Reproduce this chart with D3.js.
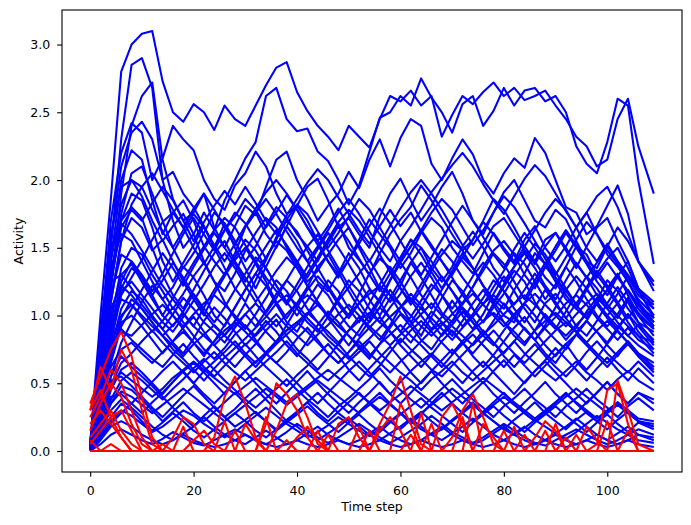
<!DOCTYPE html>
<html>
<head>
<meta charset="utf-8" />
<title>Activity per time step</title>
<script src="https://cdnjs.cloudflare.com/ajax/libs/d3/7.8.5/d3.min.js"></script>
<style>
  body { margin: 0; background: #fff; }
  svg text { font-family: "DejaVu Sans", sans-serif; fill: #000; }
</style>
</head>
<body>
<script>
// time steps (every second step, plus the last one)
var steps = d3.range(0, 108, 2).concat([109]);
var xTicks = [0, 20, 40, 60, 80, 100];
var yTicks = [0, 0.5, 1, 1.5, 2, 2.5, 3];

// activity x 100, one row per blue unit
var blueActivity = [
[5,100,186,280,300, 308,310,273,250,243, 256,250,237,255,245, 240,255,270,283,287, 265,251,240,232,222, 240,232,224,245,262, 258,266,255,262,232, 248,262,256,265,272, 262,268,259,262,266, 255,245,232,225,210, 215,245,260,225,190],
[3,60,150,230,285, 290,268,200,170,150, 160,176,163,185,200, 216,228,262,268,245, 236,238,221,214,200, 182,196,221,246,250, 262,255,275,261,250, 235,256,262,240,251, 268,255,266,268,258, 262,250,225,212,205, 228,260,255,200,138],
[2,45,120,190,240, 262,272,215,186,170, 176,190,165,150,166, 181,174,195,215,221, 200,186,170,181,190, 206,194,215,230,210, 231,245,240,212,200, 216,230,219,200,190, 205,216,209,231,220, 200,180,176,160,166, 181,196,175,140,118],
[3,70,155,210,235, 243,230,200,206,190, 180,166,150,168,155, 140,151,166,180,172, 160,151,140,156,168, 150,141,130,146,160, 171,180,196,185,172, 160,148,156,170,186, 178,165,151,140,156, 161,148,135,151,165, 172,155,140,120,105],
[4,80,170,220,242, 235,200,216,240,230, 222,200,186,178,196, 205,221,210,190,175, 181,195,201,185,165, 172,160,150,173,190, 201,185,170,181,195, 206,190,170,160,176, 191,200,185,170,165, 178,171,155,140,135, 151,165,155,140,125],
[2,65,140,200,222, 215,185,160,176,185, 170,151,140,130,146, 165,176,160,150,166, 181,170,155,140,130, 141,156,171,160,150, 135,146,161,172,165, 150,140,131,146,161, 150,140,156,166,150, 140,151,165,176,160, 145,136,125,110,95],
[1,50,120,175,205, 210,190,170,150,135, 146,161,176,168,150, 135,120,136,151,166, 155,140,125,118,131, 146,135,120,110,126, 141,156,150,135,125, 136,151,162,150,135, 125,136,148,140,128, 120,136,151,145,130, 120,131,115,100,90],
[5,85,160,195,200, 188,170,155,166,175, 160,140,125,118,131, 148,161,172,165,150, 138,125,133,145,156, 165,150,135,120,110, 122,139,150,140,128, 118,108,121,136,148, 155,145,130,120,136, 148,161,150,138,125, 115,129,140,120,98],
[2,55,125,170,190, 185,165,140,125,139, 152,166,150,135,120, 110,126,141,158,170, 162,148,135,122,110, 100,116,131,142,135, 120,108,119,133,145, 155,148,135,122,112, 105,119,131,146,138, 125,112,105,119,131, 142,150,135,118,100],
[3,60,130,170,180, 172,150,130,115,105, 119,133,146,155,140, 128,115,102,113,126, 139,151,160,148,135, 122,110,98,111,126, 139,128,115,105,119, 131,143,135,122,110, 100,95,109,123,136, 128,115,105,98,111, 126,118,105,95,88],
[2,45,110,155,172, 165,148,156,140,125, 112,100,116,129,141, 150,138,125,110,98, 109,121,136,145,132, 118,105,95,106,119, 108,95,85,99,113, 126,118,105,95,109, 121,133,125,110,98, 90,103,116,129,120, 108,98,111,100,85],
[4,70,135,160,155, 140,125,112,121,136, 128,115,100,92,106, 119,131,122,108,95, 88,101,113,126,118, 105,95,109,123,136, 125,112,100,90,99, 111,100,90,101,116, 129,118,105,95,109, 116,105,92,85,96, 109,121,110,95,80],
[1,40,95,135,150, 145,130,118,105,116, 129,139,125,110,98, 90,101,113,126,118, 105,95,88,99,111, 121,131,141,128,115, 102,95,106,119,129, 118,105,95,85,96, 109,100,90,82,93, 106,119,129,120,108, 98,90,101,92,78],
[3,55,115,145,140, 128,115,100,92,103, 116,105,95,106,119, 131,143,135,122,110, 100,111,123,115,102, 92,85,96,106,98, 88,99,111,123,115, 102,92,101,113,126, 118,105,95,106,119, 110,98,88,96,109, 119,108,95,85,72],
[2,35,85,120,135, 128,115,126,139,128, 115,102,92,85,96, 109,98,88,80,93, 106,119,129,120,108, 98,109,119,110,98, 88,80,91,103,95, 85,96,109,119,108, 95,85,78,89,101, 92,82,91,103,113, 105,95,85,93,82],
[5,75,125,130,120, 108,98,90,101,113, 105,95,88,80,91, 101,92,103,116,126, 118,105,95,85,78, 89,99,90,82,93, 106,116,108,95,85, 93,103,95,85,78, 89,99,109,100,90, 82,75,86,96,88, 80,91,101,88,75],
[1,30,75,105,118, 112,100,90,80,72, 83,96,106,98,88, 78,86,96,88,78, 70,81,93,103,95, 85,76,68,79,91, 101,92,82,75,86, 96,106,98,88,80, 72,81,91,82,72, 65,76,86,96,88, 78,70,81,72,62],
[3,48,92,112,108, 98,88,96,106,95, 85,75,68,76,86, 93,82,72,65,73, 83,91,82,72,65, 73,83,91,99,88, 78,70,62,71,81, 89,80,70,62,71, 81,91,99,88,78, 70,79,68,60,69, 79,89,80,70,60],
[2,38,70,95,100, 92,82,72,81,91, 99,88,78,70,62, 71,79,89,97,85, 75,68,60,69,79, 70,62,55,63,73, 83,75,68,60,55, 63,71,79,89,80, 70,62,71,79,70, 62,55,63,73,81, 72,65,58,66,55],
[4,55,88,90,82, 75,68,62,71,79, 70,62,55,63,71, 79,70,62,55,48, 56,63,71,79,70, 60,52,61,69,77, 68,58,50,59,67, 75,66,58,50,59, 67,58,50,59,67, 76,68,60,52,61, 69,60,52,61,50],
[2,40,90,125,140, 130,118,131,146,160, 172,160,148,163,176, 168,155,142,156,171, 182,175,162,150,161, 173,186,178,165,152, 140,151,163,176,186, 178,165,152,163,176, 188,180,168,155,142, 130,143,156,169,160, 148,138,125,112,100],
[3,62,125,165,178, 170,183,195,185,170, 155,169,181,192,182, 195,183,170,160,174, 186,198,208,200,187, 175,163,153,166,178, 166,176,162,150,140, 130,143,156,169,160, 148,138,151,163,176, 186,178,165,150,140, 153,140,128,115,105],
[1,35,80,115,128, 141,156,169,176,165, 150,138,151,163,173, 186,178,165,176,189, 178,165,152,140,128, 141,153,166,179,168, 155,142,130,143,156, 169,181,170,158,145, 135,149,161,150,138, 151,163,152,140,128, 139,128,118,108,95],
[2,28,65,92,105, 119,133,146,135,122, 136,149,161,150,138, 125,139,151,163,152, 140,128,141,153,166, 155,142,130,118,131, 143,156,145,132,120, 133,146,135,122,110, 123,136,146,135,122, 112,126,139,128,115, 105,116,129,118,108],
[5,90,150,168,160, 148,135,122,112,102, 92,106,119,131,143, 156,148,135,122,110, 123,136,149,161,150, 138,125,112,100,113, 126,139,128,115,102, 95,109,121,133,146, 138,125,112,126,139, 128,118,108,121,133, 122,110,98,108,98],
[2,42,90,118,125, 115,105,95,88,99, 111,123,136,146,135, 122,110,121,133,143, 135,122,110,100,113, 126,118,105,95,106, 116,129,139,128,115, 105,116,129,139,130, 118,108,119,131,120, 108,98,109,119,110, 100,109,119,108,92],
[1,20,45,60,65, 58,50,42,51,59, 50,42,35,43,51, 59,50,42,35,43, 51,59,50,42,35, 28,36,43,51,42, 35,43,51,59,50, 42,35,43,51,42, 35,28,36,43,51, 42,35,28,36,43, 51,42,35,43,35],
[3,30,52,55,48, 40,32,25,33,41, 48,40,32,25,31, 39,46,38,30,22, 29,36,43,35,28, 22,29,36,43,35, 28,20,27,35,43, 35,28,22,29,36, 43,35,28,22,29, 36,43,35,28,22, 29,36,28,22,18],
[0,12,25,35,30, 22,15,21,28,22, 15,10,16,22,28, 22,15,10,16,22, 18,12,8,13,18, 24,18,12,8,13, 18,24,18,12,8, 13,18,24,18,12, 8,13,18,12,8, 13,18,24,18,12, 8,13,18,12,8],
[2,25,40,42,35, 28,36,43,51,59, 65,58,50,42,51, 59,66,72,65,58, 50,42,35,43,51, 59,66,58,50,42, 51,59,66,72,65, 58,50,59,66,58, 50,42,51,59,66, 58,50,42,35,43, 51,42,35,43,38],
[1,15,30,38,32, 25,18,12,8,13, 18,25,18,12,8, 5,10,15,10,5, 8,13,18,12,8, 5,8,13,18,12, 8,5,8,13,18, 12,8,5,8,13, 18,12,8,5,8, 12,8,5,8,12, 8,5,8,12,10],
[3,35,62,75,80, 72,65,73,81,88, 80,72,81,89,95, 88,80,72,81,89, 95,102,95,88,80, 89,96,102,95,88, 80,89,96,88,80, 72,81,89,96,102, 95,88,80,89,96, 102,95,88,80,89, 96,88,80,72,65],
[2,22,48,65,72, 81,89,80,72,65, 58,66,73,65,58, 52,59,66,73,81, 72,65,58,52,59, 66,73,81,72,65, 58,52,45,53,59, 66,58,52,59,66, 73,81,72,65,58, 52,59,66,58,52, 45,53,59,52,45],
[0,8,18,22,18, 12,8,5,8,12, 8,5,3,5,8, 12,8,5,3,5, 8,5,3,5,8, 5,3,5,8,5, 3,5,8,5,3, 5,8,5,3,5, 8,5,3,5,8, 5,3,5,8,5, 3,5,8,5,3],
[4,45,78,88,85, 93,101,108,100,92, 101,109,115,108,100, 92,85,93,101,92, 85,78,86,93,101, 108,100,92,85,78, 86,93,101,109,100, 92,85,78,86,93, 101,109,115,108,100, 92,85,93,101,109, 100,92,85,78,70],
[1,18,38,52,58, 52,45,38,46,53, 61,68,60,52,45, 38,32,39,46,53, 45,38,32,25,33, 39,46,53,61,52, 45,38,32,39,46, 53,45,38,32,25, 33,39,46,38,32, 25,33,39,46,38, 32,25,33,39,30],
[2,28,55,70,62, 55,48,40,32,25, 18,26,33,25,18, 23,29,22,15,21, 27,33,26,20,14, 21,27,20,14,21, 27,33,39,32,26, 20,14,21,27,33, 26,20,14,21,27, 33,26,20,14,21, 27,20,14,21,16],
[1,10,20,28,35, 43,51,59,66,58, 50,59,66,73,81, 72,65,73,81,89, 95,88,80,72,65, 73,81,72,65,58, 66,73,81,89,95, 88,80,72,81,89, 80,72,65,73,81, 89,95,88,80,72, 65,73,81,72,62],
[3,50,100,130,138, 125,112,100,113,126, 139,151,163,172,165, 152,140,128,118,108, 119,131,143,156,169, 178,170,158,145,132, 120,110,123,136,149, 140,128,118,108,121, 133,146,138,125,112, 123,136,125,112,100, 92,101,113,102,90],
[2,36,78,100,108, 100,92,85,78,70, 79,86,93,85,78, 70,62,71,79,86, 93,101,108,100,92, 85,78,70,79,86, 93,85,78,70,62, 71,79,86,78,70, 62,71,63,55,63, 71,79,86,78,70, 62,71,79,70,58],
[1,25,55,80,95, 110,122,112,100,90, 80,70,81,93,106, 119,131,143,155,148, 135,122,110,98,88, 78,89,101,113,126, 139,151,163,152,140, 128,115,105,95,106, 116,129,141,153,145, 132,120,108,98,109, 119,129,118,105,92],
[3,58,105,122,115, 105,95,85,75,68, 60,52,61,69,76, 83,91,99,109,115, 108,98,90,82,75, 68,76,83,91,99, 106,113,105,98,90, 82,91,99,109,115, 108,98,90,82,91, 99,109,115,108,98, 90,82,91,82,75],
[2,48,110,155,182, 195,205,192,178,165, 179,190,178,165,152, 166,179,191,200,190, 178,165,155,166,179, 165,152,140,153,166, 179,191,200,190,178, 165,152,142,153,166, 172,160,148,138,151, 161,150,138,128,139, 151,140,130,120,110],
[4,75,140,182,200, 195,178,162,150,163, 175,165,152,140,153, 166,176,186,175,162, 150,140,151,163,176, 186,175,162,150,140, 155,166,178,191,201, 211,220,210,197,185, 175,188,201,211,203, 190,177,165,176,188, 195,180,160,140,122],
[2,32,70,98,112, 105,95,85,93,101, 92,85,78,86,93, 101,109,100,92,101, 109,115,108,100,92, 101,109,116,122,115, 108,100,92,85,93, 101,109,116,108,100, 92,101,109,116,108, 100,92,101,109,116, 108,100,92,85,80],
[1,15,35,48,45, 38,30,22,29,36, 28,22,29,36,43, 35,28,22,16,23, 29,36,28,22,29, 36,43,35,28,22, 16,23,29,22,16, 23,29,36,28,22, 16,23,29,36,28, 22,16,23,29,22, 16,23,29,22,18],
[1,10,22,30,26, 20,14,18,24,30, 26,20,15,10,14, 20,26,32,26,20, 15,10,14,19,25, 20,15,11,16,22, 28,22,16,12,16, 22,28,34,28,22, 16,12,17,23,18, 13,9,14,20,26, 21,16,12,16,12],
[2,18,35,44,40, 34,28,34,40,46, 40,34,28,22,28, 34,40,46,40,34, 40,46,52,46,40, 34,28,34,40,34, 28,22,28,34,40, 46,40,34,28,34, 40,34,28,22,28, 34,40,46,40,34, 28,34,28,22,20],
[0,5,12,16,12, 8,5,9,14,10, 6,4,8,12,16, 12,8,5,9,14, 20,15,10,6,10, 15,20,15,10,6, 10,15,20,26,20, 14,10,6,10,15, 20,15,10,6,4, 8,12,16,12,8, 5,8,12,8,6],
[3,28,50,58,52, 46,40,46,54,60, 66,60,54,48,42, 48,54,48,42,36, 42,48,54,60,54, 48,42,36,30,36, 42,48,42,36,30, 36,42,48,54,48, 42,36,30,24,30, 36,42,36,30,24, 30,36,30,24,22]
];

// activity x 100, one row per red unit
var redActivity = [
[35,55,75,88,70, 40,10,0,0,0, 0,0,0,0,0, 0,0,0,0,0, 0,0,0,0,0, 0,0,0,20,35, 55,30,5,0,0, 0,0,0,0,0, 0,0,0,0,0, 0,0,0,0,0, 0,0,0,0,0],
[30,62,45,75,60, 30,5,0,0,0, 0,0,10,40,55, 35,10,0,0,0, 0,0,0,0,0, 0,0,0,0,0, 0,0,0,0,0, 0,0,0,0,0, 0,0,0,0,0, 0,0,0,0,5, 45,50,20,0,0],
[25,40,60,50,30, 10,0,0,0,0, 0,0,0,0,0, 0,0,20,50,42, 30,10,0,0,0, 0,0,0,0,0, 0,0,0,0,0, 10,30,42,25,5, 0,0,0,0,0, 0,0,0,0,0, 0,0,0,0,0],
[20,30,20,10,0, 0,0,0,10,25, 20,5,0,0,0, 0,0,0,0,0, 0,0,0,0,0, 0,0,0,0,0, 0,0,0,0,0, 0,0,0,0,0, 0,0,0,10,22, 15,0,0,0,0, 0,52,30,5,0],
[15,35,50,40,20, 5,0,0,0,0, 0,0,0,0,0, 0,0,0,15,35, 42,25,5,0,0, 0,0,0,0,0, 35,20,0,0,0, 0,0,0,0,0, 0,0,0,0,0, 0,0,0,0,0, 0,0,0,0,0],
[10,20,30,15,5, 0,0,0,0,0, 0,0,0,0,15, 0,0,0,0,0, 0,0,0,12,0, 0,18,0,0,0, 0,0,0,20,0, 0,0,0,0,0, 15,0,0,0,0, 0,0,12,0,0, 0,0,0,0,0],
[30,45,25,10,0, 0,0,0,0,0, 0,0,0,0,0, 20,8,0,0,0, 0,0,0,0,20, 25,10,0,0,0, 0,0,0,0,25, 35,20,0,0,0, 0,0,12,0,15, 0,0,0,0,0, 0,0,0,0,0],
[5,15,25,30,15, 0,0,0,0,0, 8,15,5,0,0, 0,0,0,0,0, 10,18,8,0,0, 0,0,0,15,25, 15,0,0,0,0, 0,0,0,20,10, 0,0,0,0,0, 0,0,0,18,8, 0,0,0,0,0],
[0,0,0,0,0, 0,0,5,0,0, 0,0,0,22,0, 0,0,0,0,8, 0,0,0,0,0, 0,0,15,0,0, 0,0,28,0,0, 0,0,35,0,0, 0,0,0,0,0, 20,0,0,0,0, 22,0,0,0,0],
[8,0,5,0,0, 0,0,0,0,18, 0,0,0,0,0, 0,0,25,0,0, 0,0,15,0,0, 0,0,0,0,0, 0,12,0,0,0, 0,25,0,0,0, 0,18,0,0,0, 0,10,0,0,0, 0,0,15,0,0]
];

var svg = d3.select("body")
  .append("svg")
  .attr("width", 691)
  .attr("height", 525);

var margin = {top: 10, right: 9, bottom: 53, left: 62},
  width = +svg.attr("width") - margin.left - margin.right,
  height = +svg.attr("height") - margin.top - margin.bottom,
  g = svg.append("g").attr("transform", "translate(" + margin.left + "," + margin.top + ")");

// domains padded by 5% like the original plot
var xMin = d3.min(steps), xMax = d3.max(steps);
var allVals = blueActivity.concat(redActivity).flat().map(function (v) { return v / 100; });
var yMin = d3.min(allVals), yMax = d3.max(allVals);
var xPad = (xMax - xMin) * 0.05, yPad = (yMax - yMin) * 0.05;

var x = d3.scaleLinear().domain([xMin - xPad, xMax + xPad]).range([0, width]);
var y = d3.scaleLinear().domain([yMin - yPad, yMax + yPad]).range([height, 0]);

var line = d3.line()
  .x(function (d, i) { return x(steps[i]); })
  .y(function (d) { return y(d / 100); });

// lines, blue first then red on top
g.selectAll(".blue")
  .data(blueActivity)
  .enter().append("path")
  .attr("fill", "none")
  .attr("stroke", "#0000ff")
  .attr("stroke-width", 2.08)
  .attr("stroke-linejoin", "round")
  .attr("d", line);

g.selectAll(".red")
  .data(redActivity)
  .enter().append("path")
  .attr("fill", "none")
  .attr("stroke", "#ff0000")
  .attr("stroke-width", 2.08)
  .attr("stroke-linejoin", "round")
  .attr("d", line);

// axes
var xAxis = g.append("g")
  .attr("transform", "translate(0," + height + ")")
  .call(d3.axisBottom(x).tickValues(xTicks).tickFormat(d3.format("d")).tickSize(4.86).tickPadding(9));
var yAxis = g.append("g")
  .call(d3.axisLeft(y).tickValues(yTicks).tickFormat(d3.format(".1f")).tickSize(4.86).tickPadding(7));

[xAxis, yAxis].forEach(function (a) {
  a.select(".domain").remove();
  a.selectAll("line").attr("stroke", "#000").attr("stroke-width", 1.1);
  a.selectAll("text").attr("font-size", "12.5px").attr("font-family", "DejaVu Sans").attr("fill", "#000");
});

// frame
g.append("rect")
  .attr("width", width)
  .attr("height", height)
  .attr("fill", "none")
  .attr("stroke", "#000")
  .attr("stroke-width", 1.1);

// axis titles
g.append("text")
  .attr("x", width / 2)
  .attr("y", height + 38.5)
  .attr("text-anchor", "middle")
  .style("font-size", "12.5px")
  .text("Time step");

g.append("text")
  .attr("transform", "rotate(-90)")
  .attr("x", -height / 2)
  .attr("y", -39.5)
  .attr("text-anchor", "middle")
  .style("font-size", "12.5px")
  .text("Activity");
</script>
</body>
</html>
